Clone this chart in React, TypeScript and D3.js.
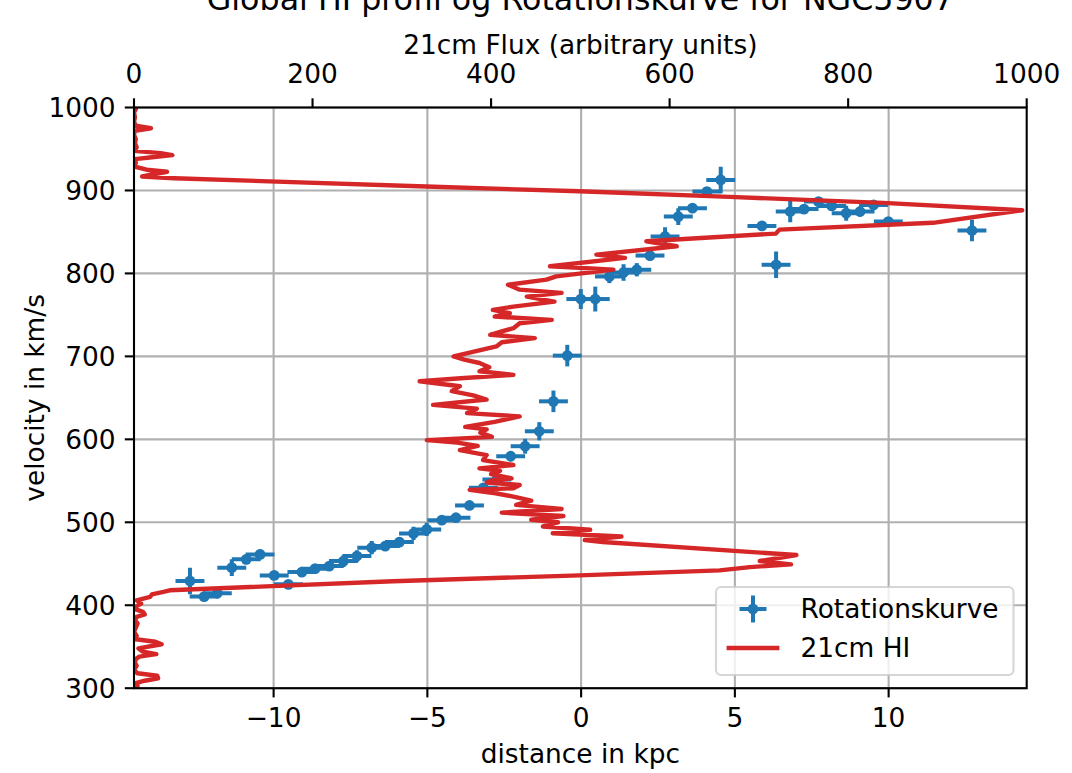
import React from 'react';
import * as d3 from 'd3';

// ---------- data ----------
const HI_VEL = [
  300, 303, 306, 309, 312, 315, 318, 322, 327, 331, 335, 338, 341, 344, 348, 353, 356, 359, 363, 368,
  373, 378, 382, 386, 389, 392, 395, 399, 402, 406, 410, 413, 416, 418, 429, 436, 442, 446, 449.3, 453.3,
  460.5, 476.2, 478.6, 482.8, 486.8, 491, 495, 500, 503, 507.6, 511.7, 516, 521, 526, 531, 535, 539, 541,
  545, 548, 551, 553, 558, 562, 565, 569, 575, 581, 587, 592, 596, 599, 603, 608, 612, 615, 621, 627.6,
  631.6, 637, 641.6, 648, 653, 658, 664, 670, 674, 677.7, 682, 687, 692, 696, 700, 706, 712, 717, 722,
  726, 730, 734, 740, 744, 748, 752, 756, 760, 766, 772, 776.5, 780.4, 786.4, 792.5, 796.5, 804.6, 808.6,
  818.7, 822.7, 832.7, 838.8, 848, 852.8, 861, 876.2, 885, 892.3, 899, 904.4, 914.8, 916.8, 919.5, 922.5,
  925, 929, 933, 937.7, 940, 942.6, 945, 947.7, 952, 957, 962, 967, 972, 975, 978, 983, 988, 994, 998, 1000,
];
const HI_FLUX = [
  1, 4, 2, 12, 27, 26, 4, 0, 3, 1, 2, 6, 25, 10, 5, 31, 24, 2, 3, 0,
  2, 4, 1, 3, 12, 10, 2, 3, 8, 3, 18, 20, 33, 40, 290, 499, 656, 690, 736, 701,
  742, 525, 505, 546, 469, 511, 458, 475, 445, 481, 412, 479, 428, 445, 425, 405, 376, 425,
  432, 395, 402, 423, 400, 410, 387, 425, 391, 395, 365, 385, 362, 328, 401, 388, 395, 371, 404, 432,
  373, 384, 335, 395, 380, 356, 365, 320, 370, 425, 387, 398, 387, 370, 358, 382, 406, 412, 449,
  399, 412, 425, 432, 468, 404, 421, 402, 425, 471, 440, 479, 432, 419, 462, 473, 537, 466,
  550, 518, 608, 574, 719, 723, 895, 995, 839, 667, 499, 336, 45, 9, 22, 37,
  14, 0, 2, 1, 20, 43, 30, 0, 3, 1, 2, 0, 1, 19, 2, 0, 1, 0, 2, 0,
];

const RC_DIST = [
  -12.72, -12.26, -11.83, -11.36, -10.89, -10.44, -9.98, -9.52, -9.08, -8.65, -8.19, -7.73, -7.29, -6.81,
  -6.37, -5.91, -5.45, -5.02, -4.53, -4.07, -3.63, -3.18, -2.74, -2.29, -1.82, -1.36, -0.9, -0.45, -0.01,
  0.46, 0.92, 1.38, 1.81, 2.24, 2.73, 3.16, 3.62, 4.09, 4.54, 5.88, 6.34, 6.8, 7.25, 7.72, 8.15, 8.62,
  9.07, 9.51, 9.99, 12.71,
];
const RC_VEL = [
  429.2, 410.4, 414.4, 445.3, 455.3, 461.3, 436.0, 425.2, 440.0, 444.1, 447.2, 453.2, 459.3, 469.4,
  471.3, 476.1, 486.6, 491.4, 502.6, 505.5, 520.3, 541.6, 551.6, 579.6, 591.7, 609.7, 645.8, 700.9, 769.1,
  769.1, 796.3, 801.1, 804.4, 821.5, 844.5, 868.5, 878.7, 898.6, 912.7, 857.3, 810.4, 874.6, 877.5, 886.6,
  881.4, 872.6, 874.6, 882.6, 862.5, 851.7,
];
const RC_VERR = [
  16, 5, 5, 10, 6, 6, 5, 5, 5, 5, 5, 7, 7, 8,
  6, 6, 8, 8, 5, 5, 5, 5, 6, 6, 9, 11, 13, 13, 12,
  15, 8, 10, 8, 6, 11, 10, 4, 4, 16, 4, 16, 13, 4, 5,
  5, 9, 6, 5, 5, 13,
];
const RC_DERR = 0.47;

const DIST_TICKS = [-10, -5, 0, 5, 10];
const FLUX_TICKS = [0, 200, 400, 600, 800, 1000];
const VEL_TICKS = [300, 400, 500, 600, 700, 800, 900, 1000];

const TITLE = 'Global HI profil og Rotationskurve for NGC5907';
const X_LABEL = 'distance in kpc';
const X2_LABEL = '21cm Flux (arbitrary units)';
const Y_LABEL = 'velocity in km/s';
const LEG_RC = 'Rotationskurve';
const LEG_HI = '21cm HI';

// ---------- layout ----------
const W = 1072, H = 773;
const L = 134, R = 1026.7, T = 107.5, B = 688.2;
const FONT = "'DejaVu Sans', sans-serif";
const FS = 26.4;
const BLUE = '#1f77b4';
const RED = '#d62728';
const TICK = 9.2;
const SW = 2.1;

const xDist = d3.scaleLinear().domain([-14.54, 14.49]).range([L, R]);
const xFlux = d3.scaleLinear().domain([0, 1000]).range([L, R]);
const yVel = d3.scaleLinear().domain([300, 1000]).range([B, T]);

const fmt = (v: number) => String(v).replace('-', '\u2212');

export default function App() {
  const hiPts: [number, number][] = HI_VEL.map((v, i) => [HI_FLUX[i], v]);
  const hiPath = d3.line<[number, number]>()
    .x(d => xFlux(d[0]))
    .y(d => yVel(d[1]))(hiPts) || '';

  const legX = 716, legY = 587, legW = 297.5, legH = 88;
  const hx0 = 726.6, hx1 = 779.4, hxc = (hx0 + hx1) / 2;
  const row1 = 609, row2 = 648;

  return (
    <svg width={W} height={H} viewBox={`0 0 ${W} ${H}`}
      style={{ position: 'absolute', left: 0, top: 0, background: '#fff' }}
      fontFamily={FONT}>
      <defs>
        <clipPath id="plotclip">
          <rect x={L} y={T} width={R - L} height={B - T} />
        </clipPath>
      </defs>
      <rect x={0} y={0} width={W} height={H} fill="#fff" />

      {/* grid */}
      <g stroke="#b0b0b0" strokeWidth={SW}>
        {DIST_TICKS.map(t => (
          <line key={'gx' + t} x1={xDist(t)} x2={xDist(t)} y1={T} y2={B} />
        ))}
        {VEL_TICKS.map(t => (
          <line key={'gy' + t} x1={L} x2={R} y1={yVel(t)} y2={yVel(t)} />
        ))}
      </g>

      {/* rotation curve error bars */}
      <g stroke={BLUE} strokeWidth={4} clipPath="url(#plotclip)">
        {RC_DIST.map((d, i) => (
          <g key={'eb' + i}>
            <line x1={xDist(d - RC_DERR)} x2={xDist(d + RC_DERR)} y1={yVel(RC_VEL[i])} y2={yVel(RC_VEL[i])} />
            <line x1={xDist(d)} x2={xDist(d)} y1={yVel(RC_VEL[i] - RC_VERR[i])} y2={yVel(RC_VEL[i] + RC_VERR[i])} />
          </g>
        ))}
      </g>
      <g fill={BLUE}>
        {RC_DIST.map((d, i) => (
          <circle key={'m' + i} cx={xDist(d)} cy={yVel(RC_VEL[i])} r={5.4} />
        ))}
      </g>

      {/* HI profile */}
      <path d={hiPath} fill="none" stroke={RED} strokeWidth={4.4} strokeLinejoin="round"
        strokeLinecap="square" clipPath="url(#plotclip)" />

      {/* spines */}
      <rect x={L} y={T} width={R - L} height={B - T} fill="none" stroke="#000" strokeWidth={SW} />

      {/* ticks */}
      <g stroke="#000" strokeWidth={SW}>
        {DIST_TICKS.map(t => (
          <line key={'bt' + t} x1={xDist(t)} x2={xDist(t)} y1={B} y2={B + TICK} />
        ))}
        {FLUX_TICKS.map(t => (
          <line key={'tt' + t} x1={xFlux(t)} x2={xFlux(t)} y1={T} y2={T - TICK} />
        ))}
        {VEL_TICKS.map(t => (
          <line key={'lt' + t} x1={L} x2={L - TICK} y1={yVel(t)} y2={yVel(t)} />
        ))}
      </g>
      <g fontSize={FS} fill="#000">
        {DIST_TICKS.map(t => (
          <text key={'bl' + t} x={xDist(t)} y={726.8} textAnchor="middle">{fmt(t)}</text>
        ))}
        {FLUX_TICKS.map(t => (
          <text key={'tl' + t} x={xFlux(t)} y={83} textAnchor="middle">{fmt(t)}</text>
        ))}
        {VEL_TICKS.map(t => (
          <text key={'ll' + t} x={L - 2 * TICK} y={yVel(t) + 9.6} textAnchor="end">{fmt(t)}</text>
        ))}
        <text x={(L + R) / 2} y={763.4} textAnchor="middle">{X_LABEL}</text>
        <text x={(L + R) / 2} y={53.5} textAnchor="middle">{X2_LABEL}</text>
        <text transform={`translate(44, ${(T + B) / 2}) rotate(-90)`} textAnchor="middle">{Y_LABEL}</text>
      </g>
      <text x={(L + R) / 2} y={9.5} textAnchor="middle" fontSize={31.7} fill="#000">{TITLE}</text>

      {/* legend */}
      <rect x={legX} y={legY} width={legW} height={legH} rx={5} ry={5}
        fill="#fff" fillOpacity={0.8} stroke="#cccccc" strokeOpacity={0.8} strokeWidth={2.1} />
      <g stroke={BLUE} strokeWidth={4}>
        <line x1={hxc - 13.5} x2={hxc + 13.5} y1={row1} y2={row1} />
        <line x1={hxc} x2={hxc} y1={row1 - 13.5} y2={row1 + 13.5} />
      </g>
      <circle cx={hxc} cy={row1} r={5.4} fill={BLUE} />
      <line x1={hx0} x2={hx1} y1={row2} y2={row2} stroke={RED} strokeWidth={4.4} />
      <g fontSize={FS} fill="#000">
        <text x={800.5} y={row1 + 9.4}>{LEG_RC}</text>
        <text x={800.5} y={row2 + 9.4}>{LEG_HI}</text>
      </g>
    </svg>
  );
}
